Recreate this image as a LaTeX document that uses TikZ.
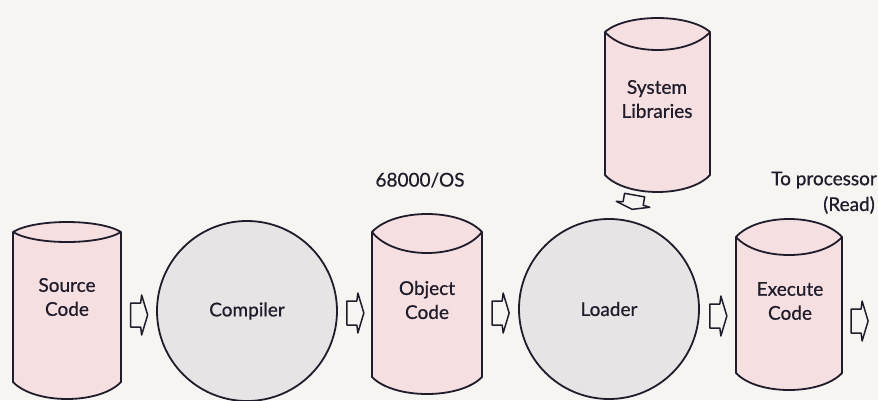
\documentclass[tikz,border=0pt]{standalone}
\usepackage{fontspec}
\setmainfont{Lato}[FakeBold=0.7]

\definecolor{paper}{HTML}{F7F5F2}
\definecolor{drumpink}{HTML}{F6DFE0}
\definecolor{discgray}{HTML}{E8E4E5}
\definecolor{ink}{HTML}{1F1C2C}

\tikzset{
  outline/.style={draw=ink, line width=1.8pt, line join=round},
  drumbody/.style={rectangle, inner sep=0pt, draw=none},
  label/.style={font=\fontsize{19}{24}\selectfont, text=ink, align=center, inner sep=0pt},
  disc/.style={circle, outline, fill=discgray, minimum size=180pt, inner sep=0pt, label},
  blockarrow/.pic={
    \filldraw[outline, line width=1.5pt, fill=paper]
      (-8,-12) -- (2,-12) -- (3,-20) -- (9,0) -- (3,20) -- (2,12) -- (-8,12) -- cycle;
  },
}

% Storage drum: name, left x, right x, rim y, base y, rise of top rim, sag of inner rim
\newcommand\drum[7]{%
  \filldraw[outline, fill=drumpink]
    (#2,#4) .. controls ({#2+(#3-#2)*0.2},{#4-4/3*#6}) and ({#3-(#3-#2)*0.2},{#4-4/3*#6}) .. (#3,#4)
    -- (#3,#5) .. controls ({#3-(#3-#2)*0.2},{#5+4/3*17}) and ({#2+(#3-#2)*0.2},{#5+4/3*17}) .. (#2,#5)
    -- cycle;
  \draw[outline]
    (#2,#4) .. controls ({#2+(#3-#2)*0.2},{#4+4/3*#7}) and ({#3-(#3-#2)*0.2},{#4+4/3*#7}) .. (#3,#4);
  \node[drumbody, minimum width={(#3-#2)*1pt}, minimum height={(#5-#4)*1pt}]
    (#1) at ({(#2+#3)/2},{(#4+#5)/2}) {};
}

\begin{document}
\begin{tikzpicture}[x=1pt, y=-1pt]
  \fill[paper] (0,0) rectangle (878,400);
  \useasboundingbox (0,0) rectangle (878,400);

  % storage drums
  \drum{src}{13}{121}{232}{382}{10}{10}
  \drum{obj}{372}{482}{232}{377}{18}{21}
  \drum{exe}{736}{842}{237}{373}{18}{18}
  \drum{sys}{605}{710}{32}{175}{14}{18}

  \node[label] (srcT) at (67,297) {Source\\Code};
  \node[label] (objT) at (427,300) {Object\\Code};
  \node[label] (exeT) at (790,301) {Execute\\Code};
  \node[label] (sysT) at (657,99) {System\\Libraries};

  % processing stages
  \node[disc] (comp) at (247,311) {Compiler};
  \node[disc] (load) at (609,309) {Loader};

  % notes
  \node[label] (os) at (420,180) {68000/OS};
  \node[label, anchor=east] (proc) at (877,180) {To processor};
  \node[label, anchor=east] (read) at (875,205) {(Read)};

  % flow arrows
  \coordinate (out) at (878,318);
  \path (src.east |- comp.center) -- (comp.west) pic[midway, yshift=-4pt] {blockarrow};
  \path (comp.east) -- (obj.west |- comp.center) pic[midway, yshift=-2pt] {blockarrow};
  \path (obj.east |- load.center) -- (load.west) pic[midway, yshift=-4pt] {blockarrow};
  \path (load.east) -- (exe.west |- load.center) pic[midway, yshift=-7pt] {blockarrow};
  \path (exe.east |- out) -- (out) pic[midway, xshift=-1pt, yshift=-3pt] {blockarrow};
  \path (sys.south) -- (load.north) pic[pos=0.62, xshift=6pt, rotate=-100, scale=0.85] {blockarrow};
\end{tikzpicture}
\end{document}
